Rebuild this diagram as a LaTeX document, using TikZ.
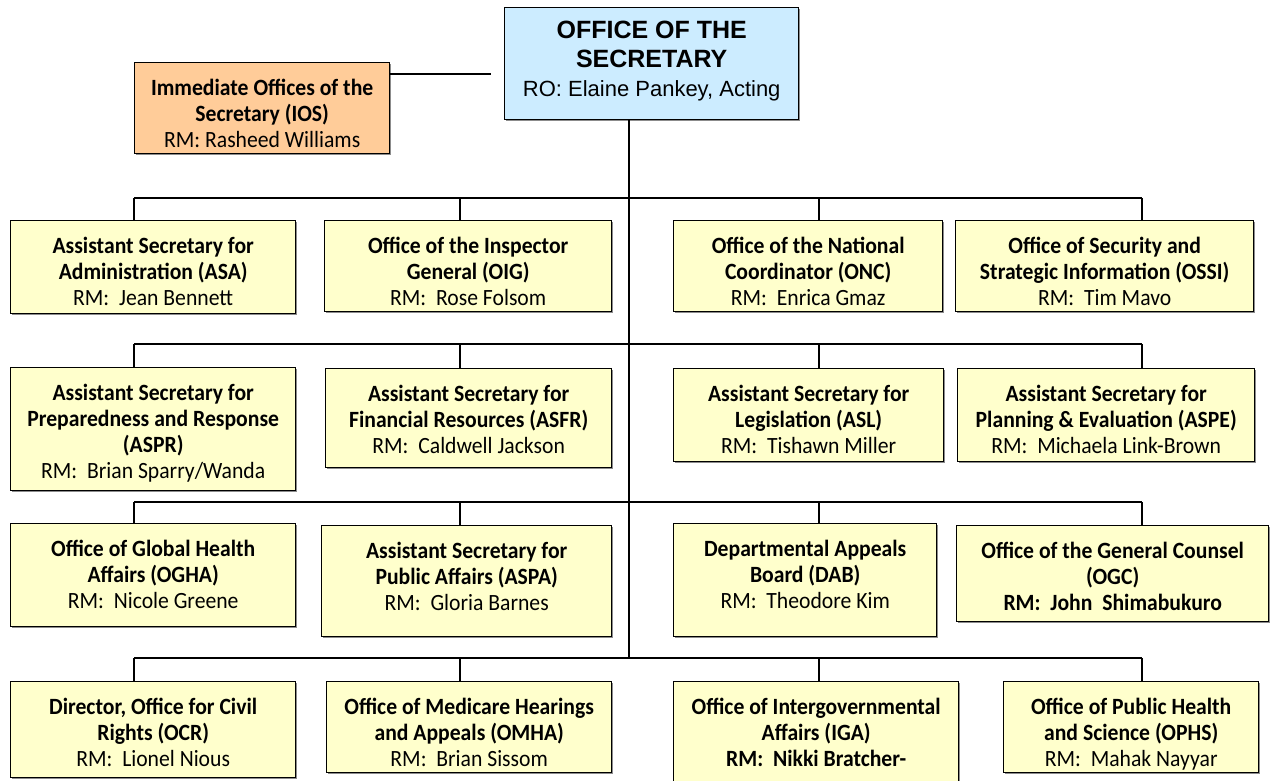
\documentclass[tikz,border=0pt]{standalone}
\usepackage{fontspec}
\setmainfont{Carlito}[FakeStretch=0.93]
\newfontfamily\arialfont{Liberation Sans}
\usetikzlibrary{shadows}
\definecolor{unityellow}{HTML}{FFFFCC}
\definecolor{secblue}{HTML}{CCECFF}
\definecolor{iosorange}{HTML}{FFCC99}

\begin{document}
\begin{tikzpicture}[x=1pt, y=-1pt,
    unit/.style={draw, line width=1.4pt, fill=unityellow, anchor=north west,
        inner sep=0pt, drop shadow={shadow xshift=1.5pt, shadow yshift=-1.5pt,
        fill=black!45, opacity=1}},
    boxsize/.style 2 args={minimum width=#1pt, minimum height=#2pt},
    unittext/.style={anchor=north, align=center, inner sep=0pt, yshift=-16.5pt,
        font=\fontsize{23.3}{26}\selectfont\bfseries},
    bus/.style={line width=2.2pt},
    drop/.style={line width=1.4pt}]
    \useasboundingbox (0,0) rectangle (1270,780);
    \clip (0,0) rectangle (1270,780);

    % secretary and immediate offices
    \node[unit, fill=secblue, boxsize={294}{112}] (sec) at (504,7) {};
    \node[unittext, yshift=2.5pt, font=\arialfont\fontsize{25}{29}\selectfont\bfseries]
        at (sec.north) {OFFICE OF THE\\SECRETARY\\
        \fontsize{22}{27}\selectfont\mdseries RO: Elaine Pankey, Acting};
    \node[unit, fill=iosorange, boxsize={255}{91}] (ios) at (134,62) {};
    \node[unittext] at (ios.north)
        {Immediate Offices of the\\Secretary (IOS)\\\mdseries RM: Rasheed Williams};

    % row 1
    \node[unit, boxsize={285}{93}] (asa) at (10,220) {};
    \node[unittext] at (asa.north)
        {Assistant Secretary for\\Administration (ASA)\\\mdseries RM:\ \ Jean Bennett};
    \node[unit, boxsize={287}{91}] (oig) at (324,220) {};
    \node[unittext] at (oig.north)
        {Office of the Inspector\\General (OIG)\\\mdseries RM:\ \ Rose Folsom};
    \node[unit, boxsize={269}{91}] (onc) at (673,220) {};
    \node[unittext] at (onc.north)
        {Office of the National\\Coordinator (ONC)\\\mdseries RM:\ \ Enrica Gmaz};
    \node[unit, boxsize={298}{91}] (ossi) at (955,220) {};
    \node[unittext] at (ossi.north)
        {Office of Security and\\Strategic Information (OSSI)\\\mdseries RM:\ \ Tim Mavo};

    % row 2
    \node[unit, boxsize={285}{123}] (aspr) at (10,367) {};
    \node[unittext] at (aspr.north)
        {Assistant Secretary for\\Preparedness and Response\\(ASPR)\\\mdseries RM:\ \ Brian Sparry/Wanda};
    \node[unit, boxsize={286}{99}] (asfr) at (325,368) {};
    \node[unittext] at (asfr.north)
        {Assistant Secretary for\\Financial Resources (ASFR)\\\mdseries RM:\ \ Caldwell Jackson};
    \node[unit, boxsize={270}{93}] (asl) at (673,368) {};
    \node[unittext] at (asl.north)
        {Assistant Secretary for\\Legislation (ASL)\\\mdseries RM:\ \ Tishawn Miller};
    \node[unit, boxsize={297}{93}] (aspe) at (957,368) {};
    \node[unittext] at (aspe.north)
        {Assistant Secretary for\\Planning \& Evaluation (ASPE)\\\mdseries RM:\ \ Michaela Link-Brown};

    % row 3
    \node[unit, boxsize={285}{103}] (ogha) at (10,523) {};
    \node[unittext] at (ogha.north)
        {Office of Global Health\\Affairs (OGHA)\\\mdseries RM:\ \ Nicole Greene};
    \node[unit, boxsize={290}{111}] (aspa) at (321,525) {};
    \node[unittext] at (aspa.north)
        {Assistant Secretary for\\Public Affairs (ASPA)\\\mdseries RM:\ \ Gloria Barnes};
    \node[unit, boxsize={263}{113}] (dab) at (673,523) {};
    \node[unittext] at (dab.north)
        {Departmental Appeals\\Board (DAB)\\\mdseries RM:\ \ Theodore Kim};
    \node[unit, boxsize={312}{96}] (ogc) at (956,525) {};
    \node[unittext] at (ogc.north)
        {Office of the General Counsel\\(OGC)\\RM:\ \ John\ \ Shimabukuro};

    % row 4
    \node[unit, boxsize={285}{96}] (ocr) at (10,681) {};
    \node[unittext] at (ocr.north)
        {Director, Office for Civil\\Rights (OCR)\\\mdseries RM:\ \ Lionel Nious};
    \node[unit, boxsize={285}{91}] (omha) at (326,681) {};
    \node[unittext] at (omha.north)
        {Office of Medicare Hearings\\and Appeals (OMHA)\\\mdseries RM:\ \ Brian Sissom};
    \node[unit, boxsize={285}{120}] (iga) at (673,681) {};
    \node[unittext] at (iga.north)
        {Office of Intergovernmental\\Affairs (IGA)\\RM:\ \ Nikki Bratcher-};
    \node[unit, boxsize={255}{91}] (ophs) at (1003,681) {};
    \node[unittext] at (ophs.north)
        {Office of Public Health\\and Science (OPHS)\\\mdseries RM:\ \ Mahak Nayyar};

    % connectors
    \coordinate (trunk) at (629,658);
    \draw[drop] (sec.south -| trunk) -- (trunk);
    \coordinate (iosend) at (491,74);
    \draw[drop] (iosend -| ios.east) -- (iosend);
    \coordinate (col1) at (134,0);
    \coordinate (col2) at (460,0);
    \coordinate (col3) at (819,0);
    \coordinate (col4) at (1142,0);
    \foreach \y/\r/\a/\b/\c/\d in {198/1/asa/oig/onc/ossi, 344/2/aspr/asfr/asl/aspe,
        502/3/ogha/aspa/dab/ogc, 658/4/ocr/omha/iga/ophs}{
        \coordinate (bus\r) at (0,\y);
        \draw[bus] (col1 |- bus\r) -- (col4 |- bus\r);
        \draw[drop] (col1 |- bus\r) -- (col1 |- \a.north);
        \draw[drop] (col2 |- bus\r) -- (col2 |- \b.north);
        \draw[drop] (col3 |- bus\r) -- (col3 |- \c.north);
        \draw[drop] (col4 |- bus\r) -- (col4 |- \d.north);
    }

\end{tikzpicture}
\end{document}
